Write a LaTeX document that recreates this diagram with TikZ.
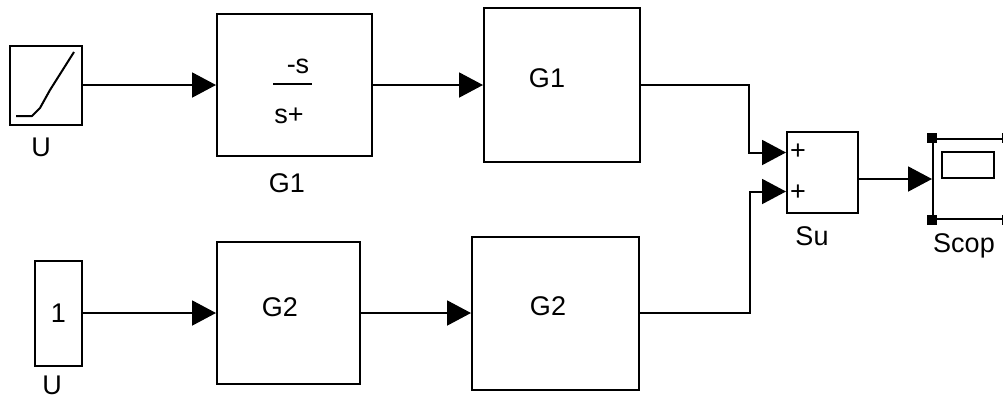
\documentclass[tikz,border=0pt]{standalone}
\usepackage{fontspec}
\setmainfont{Liberation Sans}
\usetikzlibrary{arrows.meta}
\tikzset{/SIM/S/block/.style={
	shape=rectangle, draw=black, line width=1pt, inner sep=0pt
}}
\tikzset{/SIM/S/wire/.style={
	draw=black, line width=1pt, -{Triangle[length=12pt,width=12.5pt]}
}}
\tikzset{/SIM/S/label/.style={
	inner sep=0pt
}}
\tikzset{/SIM/S/corner/.style={
	shape=rectangle, fill=black, minimum size=5pt, inner sep=0pt
}}

\begin{document}
\begin{tikzpicture}[x=0.5pt, y=-0.5pt, font=\fontsize{13.5pt}{16pt}\selectfont]
			\useasboundingbox (0,0) rectangle (1003,398);
			\path (46,85) node[/SIM/S/block, minimum width=36pt, minimum height=39.5pt] (R) {};
			\draw[line width=1pt, line join=round] (16,116) -- (32,116) -- (40,108) -- (50,90) -- (74,52);
			\path (R.south) ++ (-5,12) node[/SIM/S/label, anchor=north] (Rlabel) {U};
			\path (294.5,85) node[/SIM/S/block, minimum width=77.5pt, minimum height=71pt] (TF) {};
			\path (TF.center) ++ (3.5,-19) node[/SIM/S/label] (TFnum) {-s};
			\draw[line width=1pt] (TF.center) ++ (-21.5,-1) -- ++ (39,0);
			\path (TF.center) ++ (-5.5,31) node[/SIM/S/label] (TFden) {s+};
			\path (TF.south) ++ (-7.5,16) node[/SIM/S/label, anchor=north] (TFlabel) {G1};
			\path (562,85) node[/SIM/S/block, minimum width=78pt, minimum height=77pt] (GA) {};
			\path (GA.center) ++ (-15,-7) node[/SIM/S/label] (GAtext) {G1};
			\path (58.5,313) node[/SIM/S/block, minimum width=23.5pt, minimum height=52.5pt] (C) {1};
			\path (C.south) ++ (-6.5,9) node[/SIM/S/label, anchor=north] (Clabel) {U};
			\path (288.5,313) node[/SIM/S/block, minimum width=71.5pt, minimum height=71pt] (GB) {};
			\path (GB.center) ++ (-8.5,-6) node[/SIM/S/label] (GBtext) {G2};
			\path (555.5,313) node[/SIM/S/block, minimum width=83.5pt, minimum height=76.5pt] (GC) {};
			\path (GC.center) ++ (-7.5,-7) node[/SIM/S/label] (GCtext) {G2};
			\path (822.5,172.5) node[/SIM/S/block, minimum width=35.5pt, minimum height=40.5pt] (S) {};
			\path (S.west) ++ (12,-20.5) node[/SIM/S/label] (Splus1) {+};
			\path (S.west) ++ (12,20.5) node[/SIM/S/label] (Splus2) {+};
			\path (S.south) ++ (-10.5,12) node[/SIM/S/label, anchor=north] (Slabel) {Su};
			\path (969.5,179) node[/SIM/S/block, minimum width=36.5pt, minimum height=40pt] (SC) {};
			\path (SC.center) ++ (-1.5,-14) node[/SIM/S/block, minimum width=26pt, minimum height=13pt] (SCscreen) {};
			\path (SC.north west) node[/SIM/S/corner] (SCnw) {};
			\path (SC.south west) node[/SIM/S/corner] (SCsw) {};
			\path (SC.north east) node[/SIM/S/corner] (SCne) {};
			\path (SC.south east) node[/SIM/S/corner] (SCse) {};
			\path (SC.south) ++ (-5.5,13) node[/SIM/S/label, anchor=north] (SClabel) {Scop};
			\draw[/SIM/S/wire] (R) -- (TF);
			\draw[/SIM/S/wire] (TF) -- (GA);
			\draw[/SIM/S/wire] (GA.east) -- ++ (108,0) |- ([yshift=10pt]S.west);
			\draw[/SIM/S/wire] (C) -- (GB);
			\draw[/SIM/S/wire] (GB) -- (GC);
			\draw[/SIM/S/wire] (GC.east) -- ++ (110,0) |- ([yshift=-9.5pt]S.west);
			\draw[/SIM/S/wire] (S.east |- SC.west) -- (SC.west);
		\end{tikzpicture}
\end{document}
